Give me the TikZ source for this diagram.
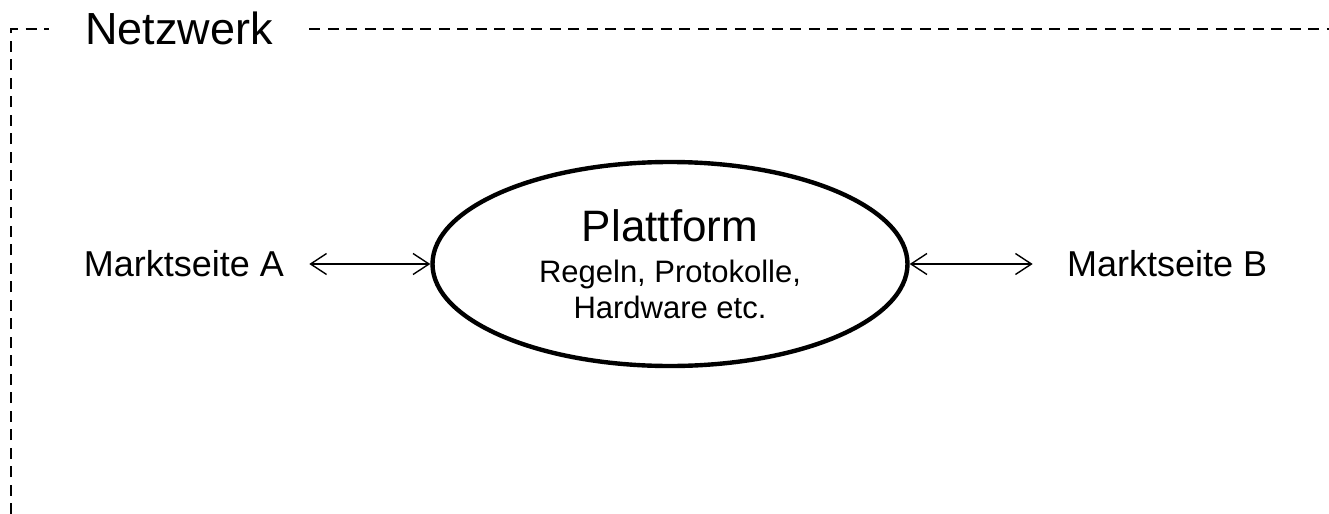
\documentclass[tikz,border=0pt]{standalone}
\usepackage{fontspec}
\setmainfont{Liberation Sans}
\usetikzlibrary{arrows.meta,positioning,shapes.geometric}
\tikzset{
    platform/.style={ellipse,draw,line width=2.2pt,minimum width=237.5pt,minimum height=102pt,inner sep=0pt,align=center,font=\fontsize{15.5}{18}\selectfont},
    side/.style={inner ysep=0pt,font=\fontsize{18}{21}\selectfont},
    link/.style={{Straight Barb[length=8pt,width=10.5pt]}-{Straight Barb[length=8pt,width=10.5pt]},line width=0.7pt},
    frame/.style={line width=1.2pt,dash pattern=on 5.5pt off 3.75pt}
}

\begin{document}
\begin{tikzpicture}[x=0.5pt,y=-0.5pt]

    \useasboundingbox (0,0) rectangle (1329,514);

    \coordinate (corner)   at (11,29);
    \coordinate (bottom)   at (11,514);
    \coordinate (topright) at (1329,29);

    \node[inner xsep=18pt,inner ysep=0pt,anchor=base west,font=\fontsize{22.5}{26}\selectfont] (netz) at (49,45) {Netzwerk};

    \draw[frame] (bottom) -- (corner) -- (corner -| netz.west);
    \draw[frame] (corner -| netz.east) -- (topright);

    \node[platform] (plattform) at (670,264)
        {{\fontsize{22}{26}\selectfont Plattform}\\[2.5pt]
         Regeln, Protokolle,\\
         Hardware etc.};

    \node[side,inner xsep=12.5pt] (markt a) [left=60.5pt of plattform]  {Marktseite A}
        edge[link] (plattform);
    \node[side,inner xsep=17pt]   (markt b) [right=61.5pt of plattform] {Marktseite B}
        edge[link] (plattform);

\end{tikzpicture}
\end{document}
